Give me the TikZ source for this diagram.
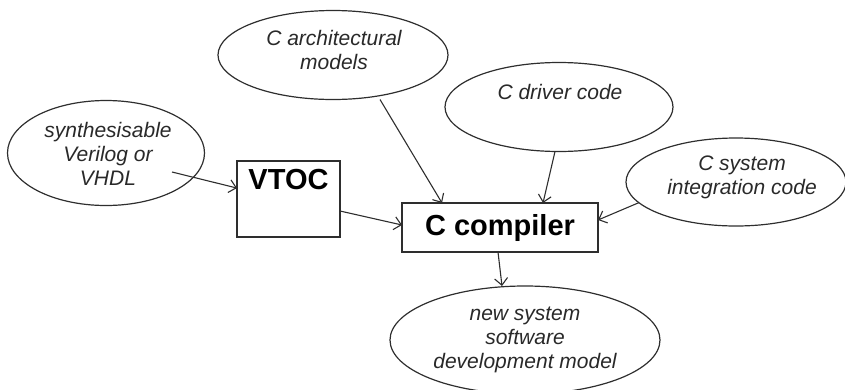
\documentclass[tikz,border=0pt]{standalone}
\usepackage{fontspec}
\setmainfont{Liberation Sans}
\usetikzlibrary{shapes.geometric,arrows.meta}
\definecolor{ink}{HTML}{2E2E2E}
\begin{document}
\begin{tikzpicture}[x=1pt,y=-1pt,
  every node/.style={inner sep=0pt,outer sep=0pt},
  oval/.style={ellipse,draw=ink,line width=1.2pt},
  box/.style={rectangle,draw=ink,line width=1.2pt},
  itxt/.style={font=\fontsize{21}{24}\selectfont\itshape,text=ink!90!black,align=center},
  btxt/.style={font=\fontsize{29}{32}\selectfont\bfseries,text=black},
  arr/.style={draw=ink,line width=1.1pt,-{Straight Barb[length=7pt,width=13pt,line width=1.1pt]}}]
\useasboundingbox (0,0) rectangle (845,389);

% input descriptions
\node[oval,minimum width=197pt,minimum height=105pt] (synth) at (106,153) {};
\node[itxt] (synthtxt) at (108,154) {synthesisable\\Verilog or\\VHDL};

\node[oval,minimum width=230pt,minimum height=89pt] (arch) at (333,55) {};
\node[itxt] (archtxt) at (334,50) {C architectural\\models};

\node[oval,minimum width=228pt,minimum height=89pt] (driver) at (559,107) {};
\node[itxt] (drivertxt) at (560,92) {C driver code};

\node[oval,minimum width=220pt,minimum height=88pt] (sysint) at (736,182) {};
\node[itxt] (sysinttxt) at (742,177) {C system\\integration code};

% tools
\node[box,minimum width=103pt,minimum height=76pt] (vtoc) at (288.5,199) {};
\node[btxt] (vtoctxt) at (288.5,180) {VTOC};

\node[box,btxt,minimum width=196pt,minimum height=49pt] (cc) at (500,227.5) {C compiler};

% output
\node[oval,minimum width=270pt,minimum height=108pt] (newmodel) at (525,340) {};
\node[itxt] (newmodeltxt) at (525,340) {new system\\software\\development model};

% connectors
\coordinate (synthout) at (172,172);
\draw[arr] (synthout) -- (vtoc.168);
\draw[arr] (vtoc.east |- 0,211) -- (cc.west |- 0,225);
\draw[arr] (arch.south -| 380,0) -- (cc.north -| 442,0);
\draw[arr] (driver.south -| 555,0) -- (cc.north -| 543,0);
\draw[arr] (sysint.192) -- (cc.east |- 0,220);
\draw[arr] (cc.south -| 498,0) -- (newmodel.north -| 502,0);
\end{tikzpicture}
\end{document}
